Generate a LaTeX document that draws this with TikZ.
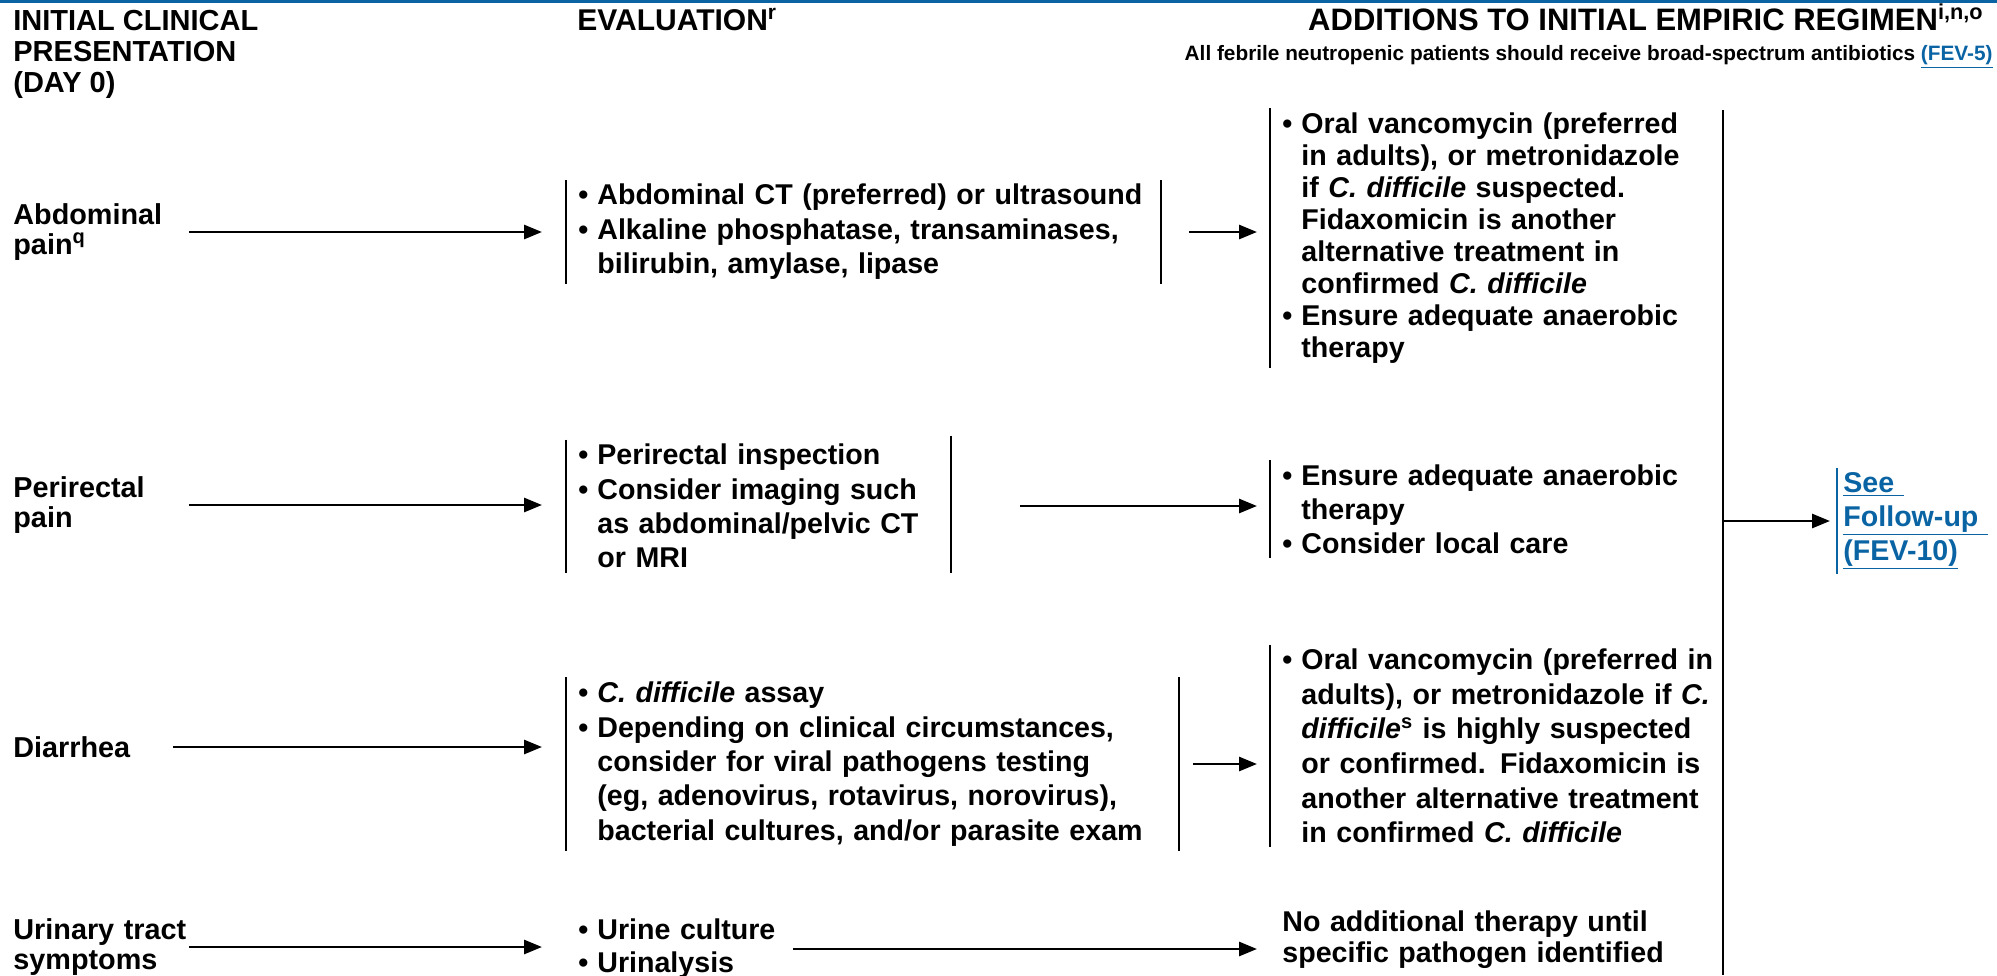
\documentclass[tikz,border=0pt]{standalone}
\usepackage{fontspec}
\setmainfont{Liberation Sans}
\usetikzlibrary{arrows.meta}

\definecolor{nccnblue}{HTML}{0A64A4}
\newcommand{\bul}{\makebox[9.5pt][l]{•}}
\newcommand{\ind}{\hspace*{9.5pt}}
\newcommand{\cdiff}{\textit{C. difficile}}
\newcommand{\lnk}[1]{\textcolor{nccnblue}{\underline{#1}}}

\begin{document}
\begin{tikzpicture}[x=0.5pt, y=-0.5pt,
	txt/.style={font=\bfseries\fontsize{14.4}{17}\selectfont, align=left, inner sep=0pt},
	hdr/.style={txt, font=\bfseries\fontsize{14.5}{15.5}\selectfont},
	sym/.style={txt, font=\bfseries\fontsize{14.4}{15}\selectfont, text width=#1},
	bx/.style={txt, inner xsep=6pt, inner ysep=2pt, text width=#1},
	evfont/.style={font=\bfseries\fontsize{14.3}{17.2}\selectfont},
	arr/.style={-{Triangle[length=9pt,width=7pt]}, line width=1.4pt},
	bar/.style={line width=1pt}]

	\useasboundingbox (0,0) rectangle (1997,975);
	\fill[nccnblue] (0,0) rectangle (1997,3);

	% column heads
	\node[hdr, anchor=north west] (hpres) at (13,10) {INITIAL CLINICAL\\PRESENTATION\\(DAY 0)};
	\node[hdr, font=\bfseries\fontsize{15}{15}\selectfont, anchor=base west] (heval) at (577,30) {EVALUATION\textsuperscript{r}};
	\node[hdr, font=\bfseries\fontsize{15.5}{15}\selectfont, anchor=base east] (hadd) at (1984,30)
		{ADDITIONS TO INITIAL EMPIRIC REGIMEN\textsuperscript{i,n,o}};
	\node[txt, font=\bfseries\fontsize{10.4}{12}\selectfont, anchor=base east] (hnote) at (1993,60)
		{All febrile neutropenic patients should receive broad-spectrum antibiotics \lnk{(FEV-5)}};

	% symptoms
	\node[sym=87.5pt, anchor=west] (abd) at (13,232) {Abdominal\\pain\textsuperscript{q}};
	\node[sym=87.5pt, anchor=west] (peri) at (13,505) {Perirectal\\pain};
	\node[sym=79.5pt, anchor=west] (diar) at (13,747) {Diarrhea};
	\node[sym=87.5pt, anchor=west] (uri) at (13,947) {Urinary tract\\symptoms};

	% evaluation
	\node[bx=285pt, evfont, anchor=west] (abdev) at (566,232) {\bul Abdominal CT (preferred) or ultrasound\\
		\bul Alkaline phosphatase, transaminases,\\ \ind bilirubin, amylase, lipase};
	\node[bx=180pt, evfont, anchor=west] (periev) at (566,506) {\bul Perirectal inspection\\
		\bul Consider imaging such\\ \ind as abdominal/pelvic CT\\ \ind or MRI};
	\node[bx=294pt, evfont, anchor=west] (diarev) at (566,764) {\bul \cdiff{} assay\\
		\bul Depending on clinical circumstances,\\ \ind consider for viral pathogens testing\\
		\ind (eg, adenovirus, rotavirus, norovirus),\\ \ind bacterial cultures, and/or parasite exam};
	\node[bx=101pt, evfont, font=\bfseries\fontsize{14.3}{16.5}\selectfont, anchor=west] (uriev) at (566,949)
		{\bul Urine culture\\ \bul Urinalysis};

	% additions
	\node[bx=220pt, font=\bfseries\fontsize{14.3}{16}\selectfont, anchor=west] (abdadd) at (1270,238)
		{\bul Oral vancomycin (preferred\\
		\ind in adults), or metronidazole\\ \ind if \cdiff{} suspected.\\ \ind Fidaxomicin is another\\
		\ind alternative treatment in\\ \ind confirmed \cdiff\\
		\bul Ensure adequate anaerobic\\ \ind therapy};
	\node[bx=220pt, font=\bfseries\fontsize{14.3}{16.9}\selectfont, anchor=west] (periadd) at (1270,509)
		{\bul Ensure adequate anaerobic\\ \ind therapy\\ \bul Consider local care};
	\node[bx=220pt, font=\bfseries\fontsize{14.3}{17.3}\selectfont, anchor=west] (diaradd) at (1270,746)
		{\bul Oral vancomycin (preferred in\\
		\ind adults), or metronidazole if \textit{C.}\\ \ind \textit{difficile}\textsuperscript{s} is highly suspected\\
		\ind or confirmed. Fidaxomicin is\\ \ind another alternative treatment\\ \ind in confirmed \cdiff};
	\node[bx=215pt, font=\bfseries\fontsize{14.3}{15.5}\selectfont, anchor=west] (uriadd) at (1270,940)
		{No additional therapy until\\specific pathogen identified};

	% follow-up
	\node[bx=70pt, font=\bfseries\fontsize{14.3}{17}\selectfont, anchor=west, inner xsep=3pt, text=nccnblue] (fu) at (1837,521)
		{\underline{See }\\ \underline{Follow-up }\\ \underline{(FEV-10)}};
	\coordinate (ltop) at (1723,110);
	\coordinate (lbot) at (1723,975);
	\coordinate (fuin) at (1723,521);

	% brackets
	\foreach \n in {abdev,diarev} {
		\draw[bar] (\n.north west) -- (\n.south west);
		\draw[bar] (\n.north east) -- (\n.south east);
	}
	\draw[bar] (periev.north west) -- (periev.south west);
	\draw[bar] ([yshift=2pt]periev.north east) -- (periev.south east);
	\foreach \n in {abdadd,periadd,diaradd}
		\draw[bar] (\n.north west) -- (\n.south west);
	\draw[bar, line width=1.25pt] (ltop) -- (lbot);
	\draw[bar, nccnblue] (fu.north west) -- (fu.south west);

	% arrows
	\draw[arr, shorten >=12pt] (abd.east) -- (abd.east -| abdev.west);
	\draw[arr, shorten >=12pt] (peri.east) -- (peri.east -| periev.west);
	\draw[arr, shorten >=12pt] (diar.east) -- (diar.east -| diarev.west);
	\draw[arr, shorten >=12pt] (uri.east) -- (uri.east -| uriev.west);
	\draw[arr, shorten <=14pt, shorten >=6.5pt] (abdev.east) -- (abdev.east -| abdadd.west);
	\draw[arr, shorten <=34.5pt, shorten >=6.5pt] (periev.east) -- (periev.east -| periadd.west);
	\draw[arr, shorten <=7pt, shorten >=6.5pt] (diarev.east) -- (diarev.east -| diaradd.west);
	\draw[arr, shorten >=6.5pt] (uriev.east) -- (uriev.east -| uriadd.west);
	\draw[arr, shorten >=3.5pt] (fuin) -- (fu.west);
\end{tikzpicture}
\end{document}
